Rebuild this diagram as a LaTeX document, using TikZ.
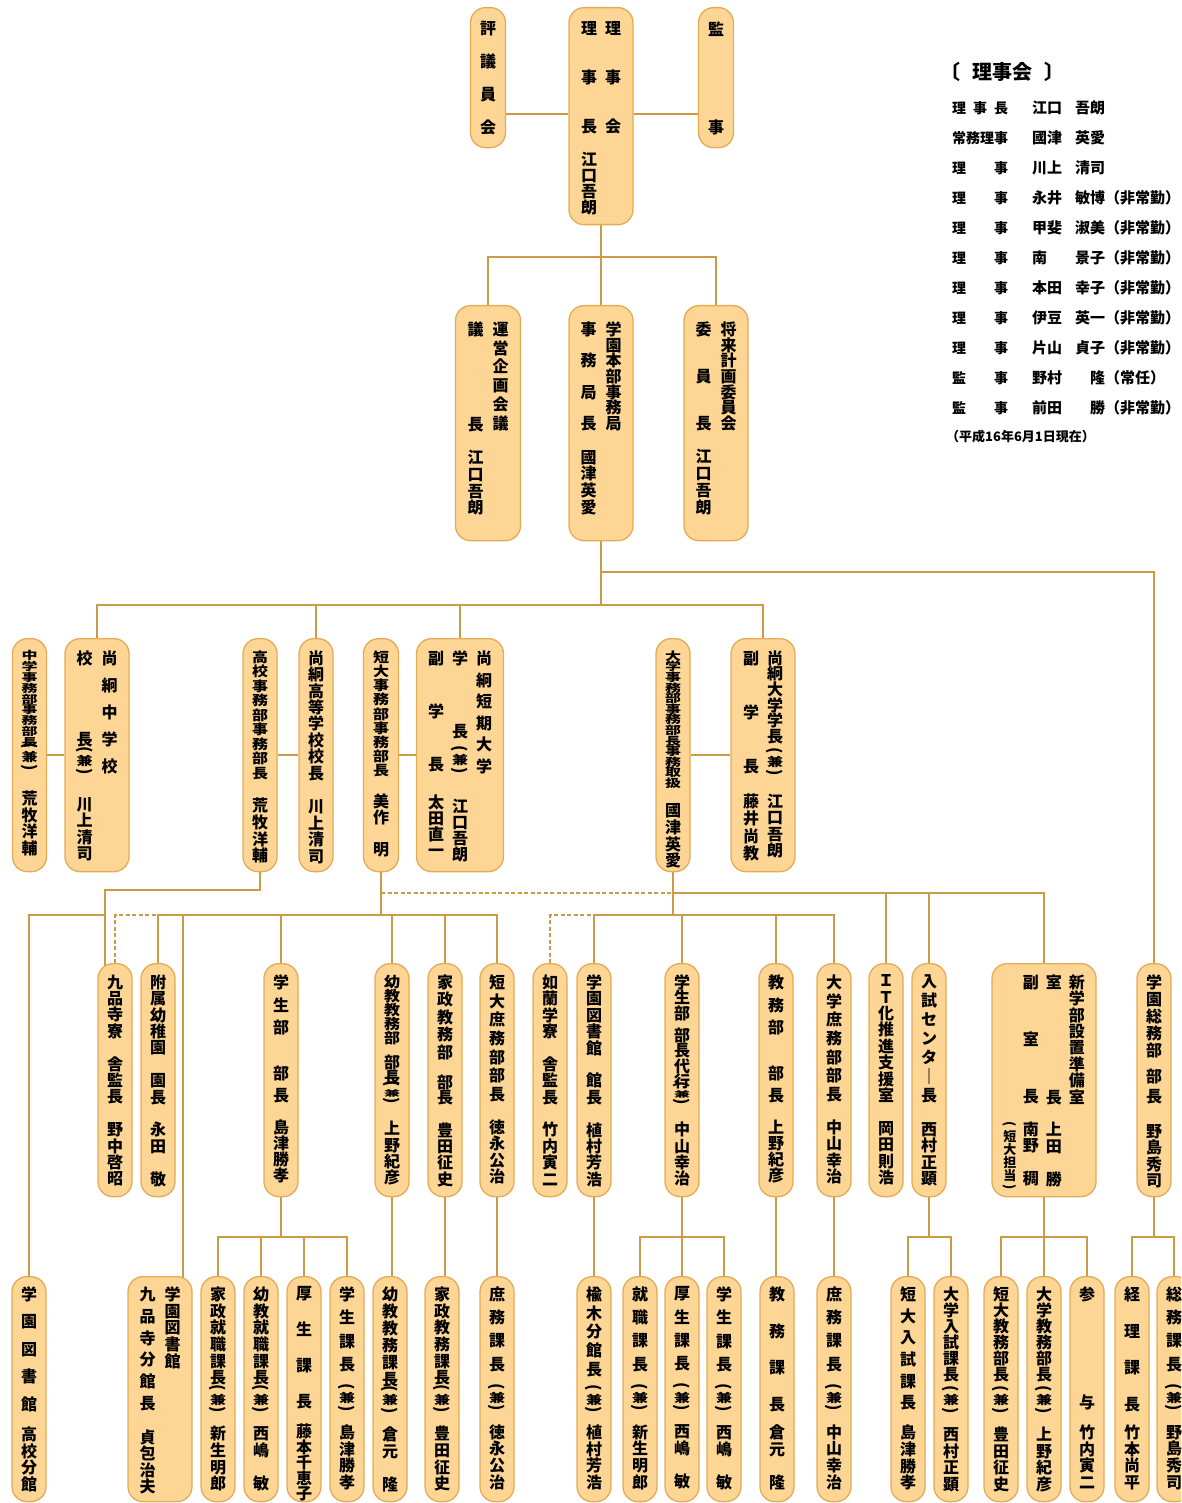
\documentclass[tikz,border=0pt]{standalone}
\usepackage{fontspec}
\setmainfont{Noto Sans CJK JP}
\usepackage{graphicx}
\usetikzlibrary{backgrounds}
\definecolor{obfill}{RGB}{253,214,150}
\definecolor{obedge}{RGB}{228,170,84}
\definecolor{lnk}{RGB}{205,155,70}

\ExplSyntaxOn
\NewDocumentCommand \seg { m m m }
  {
    \skip_set:Nn \baselineskip { #1 pt }
    \tl_map_inline:nn { #3 }
      {
        \tl_if_eq:nnTF { ##1 } { * }
          { \hbox_to_wd:nn { 1em } { \hfil } }
          { \hbox_to_wd:nn { 1em } { \hss \scalebox { 1 } [ #2 ] { ##1 } \hss } }
      }
  }
\NewDocumentCommand \vcol { m }
  {
    \vtop
      {
        \dim_set:Nn \lineskiplimit { -\maxdimen }
        \skip_set:Nn \lineskip { 0pt }
        #1
      }
  }
\ExplSyntaxOff
\newcommand\po{\rotatebox[origin=c]{-90}{(}}
\newcommand\pc{\rotatebox[origin=c]{-90}{)}}
\newcommand\ken{\vbox{\offinterlineskip\hbox to 1em{\hss\po\hss}\kern1pt\hbox to 1em{\hss\scalebox{1}[.75]{兼}\hss}\kern1pt\hbox to 1em{\hss\pc\hss}}}
\newcommand\kens{\vbox{\offinterlineskip\hbox to 1em{\hss\po\hss}\kern.5pt\hbox to 1em{\hss\scalebox{1}[.5]{兼}\hss}\kern.5pt\hbox to 1em{\hss\pc\hss}}}

\begin{document}
\begin{tikzpicture}[x=1pt,y=-1pt]
  \tikzset{
    ob/.style n args={3}{rectangle, rounded corners=15pt, draw=obedge, fill=obfill,
      line width=1.3pt, inner sep=0pt, anchor=north, minimum width=#1pt, minimum height=#2pt,
      font=\bfseries\fontsize{16pt}{16pt}\selectfont,
      execute at begin node={\vbox to \dimexpr #2pt-#3pt-#3pt\relax\bgroup\hbox\bgroup},
      execute at end node={\egroup\vss\egroup}},
    box2/.style={ob={#1}{235}{16}}, box2/.default=64,
    box3/.style={ob={#1}{233}{12}}, box3/.default=34,
    box4/.style={ob={#1}{233}{11}}, box4/.default=34,
    box5/.style={ob={#1}{225}{10}}, box5/.default=34,
    link/.style={draw=lnk, line width=2pt},
    dlink/.style={link, dash pattern=on 4pt off 2.5pt},
    lgkey/.style={anchor=west, inner sep=0pt, font=\bfseries\fontsize{14pt}{14pt}\selectfont},
    lgname/.style={anchor=west, inner sep=0pt, font=\bfseries\fontsize{15pt}{15pt}\selectfont}
  }
  \useasboundingbox (0,0) rectangle (1181,1503);
  \clip (0,0) rectangle (1181,1503);

  \node[ob={35}{140}{14}] (hyogi) at (488,7) {\vcol{\seg{32.8}{1}{評議員会}}};
  \node[ob={64}{217}{14}] (riji) at (601,7) {\vcol{\seg{16.3}{1}{理**事**長*江口吾朗}}\hspace{8pt}\vcol{\seg{16.3}{1}{理**事**会}}};
  \node[ob={35}{140}{14}] (kanji) at (716,7) {\vcol{\seg{32.8}{1}{監**事}}};

  \node[box2=65] (unei) at (488,305) {\vcol{\seg{19}{1}{議****長}\seg{16.7}{1}{*江口吾朗}}\hspace{9pt}\vcol{\seg{18.8}{1}{運営企画会議}}};
  \node[box2] (honbu) at (601,305) {\vcol{\seg{15.7}{1}{事*務*局*長}\seg{16.7}{1}{*國津英愛}}\hspace{9pt}\vcol{\seg{15.7}{1}{学園本部事務局}}};
  \node[box2] (shorai) at (716,305) {\vcol{\seg{15.7}{1}{委**員**長}\seg{16.7}{1}{*江口吾朗}}\hspace{9pt}\vcol{\seg{15.7}{1}{将来計画委員会}}};

  \node[box3] (chuJ) at (29.5,638) {\vcol{\seg{10.8}{.68}{中学事務部事務部長}\seg{26}{1}{\ken}\seg{32}{1}{荒}\seg{16.7}{1}{牧洋輔}}};
  \node[box3=64] (chu) at (97,638) {\vcol{\seg{27}{1}{校**長}\seg{31}{1}{\ken}\seg{34}{1}{川}\seg{16.5}{1}{上清司}}\hspace{9pt}\vcol{\seg{27}{1}{尚絅中学校}}};
  \node[box3] (koJ) at (260,638) {\vcol{\seg{14.5}{.85}{高校事務部事務部長}\seg{16.7}{1}{*荒牧洋輔}}};
  \node[box3] (ko) at (316,638) {\vcol{\seg{16.4}{1}{尚絅高等学校校長}\seg{16.7}{1}{*川上清司}}};
  \node[box3=35] (tanJ) at (381,638) {\vcol{\seg{14.2}{.85}{短大事務部事務部長}\seg{16}{1}{*美作*明}}};
  \node[box3=87] (tan) at (460,638) {\vcol{\seg{26.5}{1}{副*学*長}\kern6pt\seg{16}{1}{*太田直一}}\hspace{8pt}\vcol{\seg{24.3}{1}{学**長}\seg{38}{1}{\ken}\seg{37}{1}{江}\seg{16}{1}{口吾朗}}\hspace{8pt}\vcol{\seg{21.6}{1}{尚絅短期大学}}};
  \node[box3] (daiJ) at (673,638) {\vcol{\seg{10.6}{.7}{大学事務部事務部長事務取扱}\seg{12.7}{1}{*}\seg{16.7}{1}{國津英愛}}};
  \node[box3=64] (dai) at (763,638) {\vcol{\seg{27}{1}{副*学*長}\seg{17.5}{1}{*藤井尚教}}\hspace{8pt}\vcol{\seg{15.6}{1}{尚絅大学学長}\seg{35}{1}{\ken}\seg{30}{1}{江}\seg{16.5}{1}{口吾朗}}};

  \node[box4] (kuhon) at (115,963) {\vcol{\seg{16.4}{1}{九品寺寮*舎監長*野中啓昭}}};
  \node[box4] (fuzoku) at (158,963) {\vcol{\seg{16.4}{1}{附属幼稚園*園長*永田*敬}}};
  \node[box4] (gakusei) at (281,963) {\vcol{\seg{22.7}{1}{学生部*部長}\seg{16}{1}{*島津勝孝}}};
  \node[box4] (yokyo) at (392,963) {\vcol{\seg{14.2}{.9}{幼教教務部}\seg{25}{1}{部}\seg{15}{1}{長}\seg{22}{1}{\kens}\seg{29}{1}{上}\seg{16.3}{1}{野紀彦}}};
  \node[box4] (kasei) at (445,963) {\vcol{\seg{17.5}{1}{家政教務部}\seg{30}{1}{部}\seg{15}{1}{長}\seg{33}{1}{豊}\seg{16.3}{1}{田征史}}};
  \node[box4] (tanshomu) at (497,963) {\vcol{\seg{18.7}{1}{短大庶務部部長}\seg{33}{1}{徳}\seg{16.3}{1}{永公治}}};
  \node[box4] (joran) at (550,963) {\vcol{\seg{16.4}{1}{如蘭学寮*舎監長*竹内寅二}}};
  \node[box4] (tosho) at (594,963) {\vcol{\seg{16.4}{1}{学園図書館*館長*植村芳浩}}};
  \node[box4] (daigakusei) at (682,963) {\vcol{\seg{15.5}{1}{学生部}\seg{22}{1}{部}\seg{15.5}{1}{長代行}\seg{19}{1}{\kens}\seg{29}{1}{中}\seg{16.3}{1}{山幸治}}};
  \node[box4] (kyomu) at (776,963) {\vcol{\seg{22.7}{1}{教務部*部長}\seg{16}{1}{*上野紀彦}}};
  \node[box4] (daishomu) at (834,963) {\vcol{\seg{18.7}{1}{大学庶務部部長}\seg{33}{1}{中}\seg{16.3}{1}{山幸治}}};
  \node[box4] (it) at (886,963) {\vcol{\seg{16.4}{1}{ＩＴ化推進支援室*岡田則浩}}};
  \node[box4] (nyushi) at (929,963) {\vcol{\seg{19}{1}{入試センタ｜長}\seg{34}{1}{西}\seg{16.3}{1}{村正顕}}};
  \node[box4=104] (shingaku) at (1044,963) {\vcol{\fontsize{13pt}{13pt}\selectfont\seg{16.4}{1}{********}\seg{25}{1}{\po}\seg{13}{1}{短大担当}\seg{11}{1}{\pc}}\hspace{6.5pt}\vcol{\seg{16.4}{1}{副}\seg{57}{1}{室}\seg{57}{1}{長}\seg{32.8}{1}{南}\seg{16.4}{1}{野*稠}}\hspace{7pt}\vcol{\seg{16.4}{1}{室******長*上田*勝}}\hspace{7pt}\vcol{\seg{16.4}{1}{新学部設置準備室}}};
  \node[box4] (somu) at (1154,963) {\vcol{\seg{17}{1}{学園総務部}\seg{26}{1}{部}\seg{20}{1}{長}\seg{35}{1}{野}\seg{16.3}{1}{島秀司}}};

  \node[box5] (kokobun) at (29,1276) {\vcol{\seg{27.5}{1}{学園図書館}\seg{30}{1}{高}\seg{16.7}{1}{校分館}}};
  \node[box5=64] (kuhonbun) at (160,1276) {\vcol{\seg{21.8}{1}{九品寺分館長}\seg{34}{1}{貞}\seg{16.3}{1}{包治夫}}\hspace{9pt}\vcol{\seg{16.7}{1}{学園図書館}}};
  \node[box5] (kaseishu) at (218,1276) {\vcol{\seg{16.7}{1}{家政就職課長}\seg{31}{1}{\ken}\seg{25}{1}{新}\seg{16.7}{1}{生明郎}}};
  \node[box5] (yokyoshu) at (261,1276) {\vcol{\seg{16.7}{1}{幼教就職課長}\seg{31}{1}{\ken}\seg{25}{1}{西}\seg{16.7}{1}{嶋*敏}}};
  \node[box5] (koseika) at (304,1276) {\vcol{\seg{36}{1}{厚生課長}\seg{30}{1}{藤}\seg{15.5}{1}{本千恵子}}};
  \node[box5] (gakuseika) at (347,1276) {\vcol{\seg{23.3}{1}{学生課長}\seg{43}{1}{\ken}\seg{25}{1}{島}\seg{16.7}{1}{津勝孝}}};
  \node[box5] (yokyoka) at (390,1276) {\vcol{\seg{17}{1}{幼教教務課長}\seg{30}{1}{\ken}\seg{25}{1}{倉}\seg{16.7}{1}{元*隆}}};
  \node[box5] (kaseika) at (442,1276) {\vcol{\seg{16.7}{1}{家政教務課長}\seg{31}{1}{\ken}\seg{25}{1}{豊}\seg{16.7}{1}{田征史}}};
  \node[box5] (shomuka) at (497,1276) {\vcol{\seg{23.3}{1}{庶務課長}\seg{43}{1}{\ken}\seg{25}{1}{徳}\seg{16.7}{1}{永公治}}};
  \node[box5] (nireki) at (594,1276) {\vcol{\seg{18.8}{1}{楡木分館長}\seg{39}{1}{\ken}\seg{24}{1}{植}\seg{16.7}{1}{村芳浩}}};
  \node[box5] (shushoku) at (640,1276) {\vcol{\seg{23.3}{1}{就職課長}\seg{43}{1}{\ken}\seg{25}{1}{新}\seg{16.7}{1}{生明郎}}};
  \node[box5] (koseika2) at (682,1276) {\vcol{\seg{23.3}{1}{厚生課長}\seg{43}{1}{\ken}\seg{25}{1}{西}\seg{16.7}{1}{嶋*敏}}};
  \node[box5] (gakuseika2) at (724,1276) {\vcol{\seg{23.3}{1}{学生課長}\seg{43}{1}{\ken}\seg{25}{1}{西}\seg{16.7}{1}{嶋*敏}}};
  \node[box5] (kyomuka) at (777,1276) {\vcol{\seg{36.7}{1}{教務課長}\seg{28}{1}{倉}\seg{16.7}{1}{元*隆}}};
  \node[box5] (shomuka2) at (834,1276) {\vcol{\seg{23.3}{1}{庶務課長}\seg{43}{1}{\ken}\seg{25}{1}{中}\seg{16.7}{1}{山幸治}}};
  \node[box5] (tannyushi) at (908,1276) {\vcol{\seg{21.7}{1}{短大入試課長}\seg{30}{1}{島}\seg{16.7}{1}{津勝孝}}};
  \node[box5] (dainyushi) at (951,1276) {\vcol{\seg{16}{1}{大学入試課長}\seg{35}{1}{\ken}\seg{25}{1}{西}\seg{16.7}{1}{村正顕}}};
  \node[box5] (tankyomu) at (1001,1276) {\vcol{\seg{16}{1}{短大教務部長}\seg{35}{1}{\ken}\seg{25}{1}{豊}\seg{16.7}{1}{田征史}}};
  \node[box5] (daikyomu) at (1044,1276) {\vcol{\seg{16}{1}{大学教務部長}\seg{35}{1}{\ken}\seg{25}{1}{上}\seg{16.7}{1}{野紀彦}}};
  \node[box5] (sanyo) at (1087,1276) {\vcol{\seg{21.6}{1}{参****与}\seg{30}{1}{竹}\seg{16.7}{1}{内寅二}}};
  \node[box5] (keiri) at (1132,1276) {\vcol{\seg{36.7}{1}{経理課長}\seg{28}{1}{竹}\seg{16.7}{1}{本尚平}}};
  \node[box5] (somuka) at (1174,1276) {\vcol{\seg{23.3}{1}{総務課長}\seg{43}{1}{\ken}\seg{25}{1}{野}\seg{16.7}{1}{島秀司}}};

  \node[anchor=west, inner sep=0pt, font=\bfseries\fontsize{20pt}{20pt}\selectfont] (lghead) at (940,72) {〔\hspace{12pt}理事会\hspace{12pt}〕};
  \foreach \lab/\sei/\mei/\note [count=\i] in {
      {理\hfill 事\hfill 長}/江口/吾朗/{},
      {常務理事}/國津/英愛/{},
      {理\hfill 事}/川上/清司/{},
      {理\hfill 事}/永井/敏博/（非常勤）,
      {理\hfill 事}/甲斐/淑美/（非常勤）,
      {理\hfill 事}/南/景子/（非常勤）,
      {理\hfill 事}/本田/幸子/（非常勤）,
      {理\hfill 事}/伊豆/英一/（非常勤）,
      {理\hfill 事}/片山/貞子/（非常勤）,
      {監\hfill 事}/野村/隆/（常任）,
      {監\hfill 事}/前田/勝/（非常勤）}
  {
    \node[lgkey] (key\i) at (952,{78+30*\i}) {\makebox[56pt][s]{\lab}};
    \node[lgname] (who\i) at (1032,{78+30*\i}) {\makebox[31pt][l]{\sei}\hspace{10pt}\makebox[32pt][r]{\mei}\note};
  }
  \node[anchor=west, inner sep=0pt, font=\bfseries\fontsize{13pt}{13pt}\selectfont] (lgdate) at (946,437) {（平成16年6月1日現在）};

  \begin{pgfonlayer}{background}
    \coordinate (lvT) at (0,114);
    \coordinate (lvA) at (0,257);
    \coordinate (lvB) at (0,572);
    \coordinate (lvC) at (0,605);
    \coordinate (lvD) at (0,890);
    \coordinate (lvE) at (0,893);
    \coordinate (lvF) at (0,915);
    \coordinate (lvG) at (0,1237);
    \coordinate (kuhonL) at ([xshift=-10pt,yshift=-5pt]kuhon.north);
    \coordinate (kuhonbunR) at ([xshift=23pt,yshift=-5pt]kuhonbun.north);

    \draw[link] (hyogi.east |- lvT) -- (riji.west |- lvT);
    \draw[link] (riji.east |- lvT) -- (kanji.west |- lvT);
    \draw[link] (riji) -- (honbu);
    \draw[link] (unei.north) |- (honbu.north |- lvA) -| (shorai.north);

    \draw[link] (honbu.south) -- (honbu.south |- lvC);
    \draw[link] (chu.north) |- (honbu.south |- lvC) -| (dai.north);
    \draw[link] (ko.north) -- (ko.north |- lvC);
    \draw[link] (tan.north) -- (tan.north |- lvC);
    \draw[link] (honbu.south |- lvB) -| (somu.north);

    \draw[link] (chuJ) -- (chu);
    \draw[link] (koJ) -- (ko);
    \draw[link] (tanJ) -- (tan);
    \draw[link] (daiJ) -- (dai);

    \draw[link] (koJ.south) |- (kuhonL |- lvD) -- (kuhonL);
    \draw[link] (kuhonL |- lvF) -| (kokobun.north);

    \draw[link] (tanJ.south) -- (tanJ.south |- lvF);
    \draw[link] (fuzoku.north) |- (tanshomu.north |- lvF) -- (tanshomu.north);
    \foreach \n in {gakusei,yokyo,kasei}
      \draw[link] (\n.north) -- (\n.north |- lvF);
    \draw[link] (kuhonbunR |- lvF) -- (kuhonbunR);
    \draw[dlink] (kuhon.north) |- (fuzoku.north |- lvF);
    \draw[dlink] (tanJ.south |- lvE) -- (daiJ.south |- lvE);

    \draw[link] (daiJ.south) -- (daiJ.south |- lvF);
    \draw[link] (daiJ.south |- lvE) -| (shingaku.north);
    \foreach \n in {it,nyushi}
      \draw[link] (\n.north) -- (\n.north |- lvE);
    \draw[link] (tosho.north) |- (daishomu.north |- lvF) -- (daishomu.north);
    \foreach \n in {daigakusei,kyomu}
      \draw[link] (\n.north) -- (\n.north |- lvF);
    \draw[dlink] (joran.north) |- (tosho.north |- lvF);

    \draw[link] (gakusei.south) -- (gakusei.south |- lvG);
    \draw[link] (kaseishu.north) |- (gakuseika.north |- lvG) -- (gakuseika.north);
    \foreach \n in {yokyoshu,koseika}
      \draw[link] (\n.north) -- (\n.north |- lvG);
    \draw[link] (yokyo.south) -- (yokyo.south |- yokyoka.north);
    \draw[link] (kasei.south) -- (kasei.south |- kaseika.north);
    \draw[link] (tanshomu.south) -- (shomuka.north);
    \draw[link] (tosho.south) -- (nireki.north);
    \draw[link] (daigakusei.south) -- (daigakusei.south |- lvG);
    \draw[link] (shushoku.north) |- (gakuseika2.north |- lvG) -- (gakuseika2.north);
    \draw[link] (koseika2.north) -- (koseika2.north |- lvG);
    \draw[link] (kyomu.south) -- (kyomu.south |- kyomuka.north);
    \draw[link] (daishomu.south) -- (shomuka2.north);
    \draw[link] (nyushi.south) -- (nyushi.south |- lvG);
    \draw[link] (tannyushi.north) |- (dainyushi.north |- lvG) -- (dainyushi.north);
    \draw[link] (shingaku.south) -- (shingaku.south |- lvG);
    \draw[link] (tankyomu.north) |- (sanyo.north |- lvG) -- (sanyo.north);
    \draw[link] (daikyomu.north) -- (daikyomu.north |- lvG);
    \draw[link] (somu.south) -- (somu.south |- lvG);
    \draw[link] (keiri.north) |- (somuka.north |- lvG) -- (somuka.north);
  \end{pgfonlayer}
\end{tikzpicture}
\end{document}
